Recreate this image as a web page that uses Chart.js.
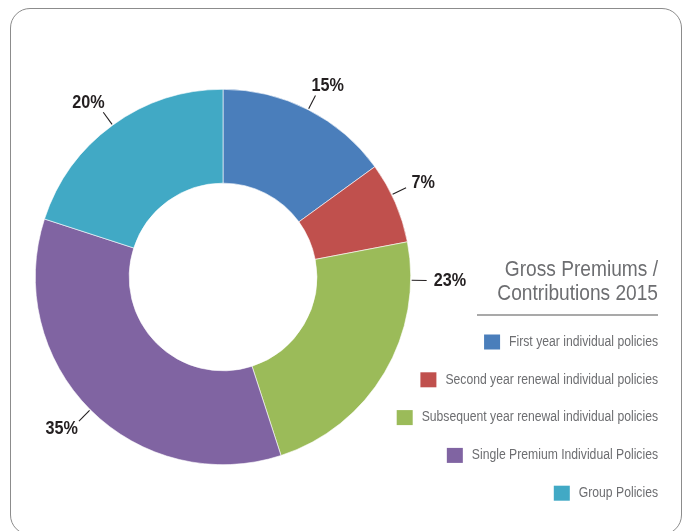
<!DOCTYPE html>
<html>
<head>
<meta charset="utf-8">
<title>Gross Premiums / Contributions 2015</title>
<script src="https://cdn.jsdelivr.net/npm/chart.js@4/dist/chart.umd.min.js"></script>
<style>
  html, body { margin: 0; padding: 0; background: #fff; }
  #wrap { position: relative; width: 685px; height: 531px; overflow: hidden; }
  #frame {
    position: absolute; left: 10px; top: 8px;
    width: 670px; height: 525px;
    border: 1.5px solid #8c8c8c; border-radius: 20px;
  }
  #premiums { position: absolute; left: 0; top: 0; }
</style>
</head>
<body>
<div id="wrap">
  <div id="frame"></div>
  <canvas id="premiums" width="685" height="531"></canvas>
</div>
<script>
// Breakdown of gross premiums / contributions, 2015 (percent of total)
const categories = [
    'First year individual policies',
    'Second year renewal individual policies',
    'Subsequent year renewal individual policies',
    'Single Premium Individual Policies',
    'Group Policies'
];
const shares = [15, 7, 23, 35, 20];
const sliceColors = ['#4a7ebb', '#c0504d', '#9bbb59', '#8064a2', '#41a9c5'];
const titleLines = ['Gross Premiums /', 'Contributions 2015'];

const sans = "'Liberation Sans', Arial, sans-serif";

// draw text squeezed horizontally to get a condensed look; returns drawn width
function narrowText(ctx, text, x, y, squeeze, align) {
    const w = ctx.measureText(text).width * squeeze;
    let left = x;
    if (align === 'right') left = x - w;
    if (align === 'center') left = x - w / 2;
    ctx.save();
    ctx.textAlign = 'left';
    ctx.translate(left, y);
    ctx.scale(squeeze, 1);
    ctx.fillText(text, 0, 0);
    ctx.restore();
    return w;
}

// Percent labels outside the ring with a short leader line
const leaderLabels = {
    id: 'leaderLabels',
    afterDatasetsDraw(chart, args, opts) {
        const ctx = chart.ctx;
        const meta = chart.getDatasetMeta(0);
        ctx.save();
        ctx.font = opts.font;
        ctx.fillStyle = opts.color;
        ctx.strokeStyle = opts.color;
        ctx.lineWidth = 1.1;
        ctx.textBaseline = 'middle';
        meta.data.forEach((arc, i) => {
            const p = arc.getProps(['x', 'y', 'outerRadius', 'startAngle', 'endAngle'], true);
            let angle = (p.startAngle + p.endAngle) / 2;
            if (opts.angles[i] != null) {
                angle = opts.angles[i] * Math.PI / 180 - Math.PI / 2;
            }
            const dx = Math.cos(angle), dy = Math.sin(angle);
            const x0 = p.x + dx * (p.outerRadius + 1);
            const y0 = p.y + dy * (p.outerRadius + 1);
            const x1 = p.x + dx * (p.outerRadius + opts.lineLength);
            const y1 = p.y + dy * (p.outerRadius + opts.lineLength);
            ctx.beginPath();
            ctx.moveTo(x0, y0);
            ctx.lineTo(x1, y1);
            ctx.stroke();

            const text = shares[i] + '%';
            const w = ctx.measureText(text).width * opts.squeeze;
            const tx = x1 + dx * (w / 2 + 4) + Math.sign(dx) * 3;
            const ty = y1 + dy * 11;
            narrowText(ctx, text, tx, ty, opts.squeeze, 'center');
        });
        ctx.restore();
    }
};

// Right-aligned title and legend column
const sideLegend = {
    id: 'sideLegend',
    afterDraw(chart, args, opts) {
        const ctx = chart.ctx;
        ctx.save();
        ctx.textBaseline = 'alphabetic';
        ctx.fillStyle = opts.titleColor;
        ctx.font = opts.titleFont;
        titleLines.forEach((line, i) => {
            narrowText(ctx, line, opts.right, opts.titleBaseline + i * opts.titleLineHeight,
                opts.squeeze, 'right');
        });

        ctx.strokeStyle = opts.ruleColor;
        ctx.lineWidth = 1.5;
        ctx.beginPath();
        ctx.moveTo(opts.ruleLeft, opts.ruleY);
        ctx.lineTo(opts.right, opts.ruleY);
        ctx.stroke();

        ctx.font = opts.itemFont;
        ctx.textBaseline = 'middle';
        const colors = chart.data.datasets[0].backgroundColor;
        chart.data.labels.forEach((label, i) => {
            const y = opts.firstItemY + i * opts.itemSpacing;
            ctx.fillStyle = opts.itemColor;
            const w = narrowText(ctx, label, opts.right, y, opts.squeeze, 'right');
            ctx.fillStyle = colors[i];
            ctx.fillRect(opts.right - w - opts.boxGap - opts.boxWidth, y - opts.boxHeight / 2,
                opts.boxWidth, opts.boxHeight);
        });
        ctx.restore();
    }
};

new Chart(document.getElementById('premiums'), {
    type: 'doughnut',
    data: {
        labels: categories,
        datasets: [{
            data: shares,
            backgroundColor: sliceColors,
            borderColor: '#ffffff',
            borderWidth: 0.6,
            hoverOffset: 0
        }]
    },
    options: {
        responsive: false,
        animation: false,
        cutout: '50%',
        layout: {
            padding: { left: 35, right: 274, top: 89, bottom: 66 }
        },
        plugins: {
            legend: { display: false },
            tooltip: { enabled: false },
            leaderLabels: {
                font: 'bold 18px ' + sans,
                color: '#231f20',
                squeeze: 0.9,
                lineLength: 16,
                angles: { 1: 64, 2: 91 }
            },
            sideLegend: {
                right: 658,
                squeeze: 0.87,
                titleFont: '22px ' + sans,
                titleColor: '#6d6e71',
                titleBaseline: 276,
                titleLineHeight: 24,
                ruleLeft: 477,
                ruleY: 315,
                ruleColor: '#8c8c8c',
                itemFont: '14px ' + sans,
                itemColor: '#6d6e71',
                firstItemY: 342,
                itemSpacing: 37.8,
                boxWidth: 16,
                boxHeight: 15,
                boxGap: 9
            }
        }
    },
    plugins: [leaderLabels, sideLegend]
});
</script>
</body>
</html>
